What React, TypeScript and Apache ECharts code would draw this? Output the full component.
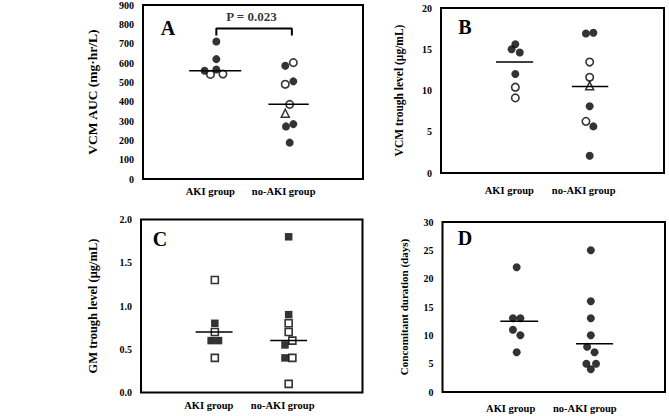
import React, { useEffect, useRef } from "react";
import * as echarts from "echarts";

const groups = ["AKI group", "no-AKI group"];

// Panel A – VCM AUC (mg·hr/L)
const aAkiFilled = [711, 620, 566, 560];
const aAkiFilledJit = [0, 0, 0, -0.16];
const aAkiOpen = [541, 543];
const aAkiOpenJit = [-0.08, 0.09];
const aNoFilled = [586, 505, 284, 272, 188];
const aNoFilledJit = [-0.06, 0.05, 0.05, -0.05, 0];
const aNoOpen = [602, 490, 386];
const aNoOpenJit = [0.05, -0.06, 0];
const aNoTri = [340];
const aNoTriJit = [-0.06];
const aMedian = [560, 386];
const aPText = "P = 0.023";

// Panel B – VCM trough level (μg/mL)
const bAkiFilled = [15.6, 15.0, 14.6, 12.0];
const bAkiFilledJit = [0, -0.05, 0.06, 0];
const bAkiOpen = [10.4, 9.1];
const bAkiOpenJit = [0, 0];
const bNoFilled = [16.9, 17.0, 8.1, 5.65, 2.1];
const bNoFilledJit = [-0.05, 0.05, 0, 0.05, 0];
const bNoOpen = [13.45, 11.6, 6.26];
const bNoOpenJit = [0, 0, -0.05];
const bNoTri = [10.57];
const bNoTriJit = [0];
const bMedian = [13.45, 10.5];

// Panel C – GM trough level (μg/mL)
const cAkiFilled = [0.8, 0.6, 0.6];
const cAkiFilledJit = [0, -0.05, 0.05];
const cAkiOpen = [1.3, 0.7, 0.4];
const cAkiOpenJit = [0, 0, 0];
const cNoFilled = [1.8, 0.9, 0.55, 0.4];
const cNoFilledJit = [0, 0, -0.05, -0.05];
const cNoOpen = [0.8, 0.7, 0.6, 0.4, 0.1];
const cNoOpenJit = [0, 0, 0.05, 0.05, 0];
const cMedian = [0.7, 0.6];

// Panel D – Concomitant duration (days)
const dAki = [22, 13, 13, 11, 10, 7];
const dAkiJit = [0, -0.05, 0.05, -0.05, 0.05, 0];
const dNo = [25, 16, 13, 10, 8, 7, 5, 5, 4];
const dNoJit = [0, 0, 0, 0, -0.05, 0.05, -0.06, 0.07, 0];
const dMedian = [12.5, 8.5];

const FONT = "'Liberation Serif', 'Times New Roman', serif";

type Marker = "filled" | "open" | "openTri" | "filledSq" | "openSq";

function pts(cat: number, values: number[], jit: number[]) {
  return values.map((v, i) => [cat + jit[i], v]);
}

function scatter(idx: number, data: number[][], kind: Marker) {
  const base: any = {
    type: "scatter",
    xAxisIndex: idx,
    yAxisIndex: idx,
    data,
    z: 3,
  };
  if (kind === "filled") {
    base.symbol = "circle";
    base.symbolSize = 8;
    base.itemStyle = { color: "#000" };
  } else if (kind === "open") {
    base.symbol = "circle";
    base.symbolSize = 7.5;
    base.z = 4;
    base.itemStyle = { color: "#fff", borderColor: "#000", borderWidth: 1.6 };
  } else if (kind === "openTri") {
    base.symbol = "triangle";
    base.symbolSize = 8;
    base.z = 4;
    base.itemStyle = { color: "#fff", borderColor: "#000", borderWidth: 1.5 };
  } else if (kind === "filledSq") {
    base.symbol = "rect";
    base.symbolSize = 7.5;
    base.itemStyle = { color: "#000" };
  } else {
    base.symbol = "rect";
    base.symbolSize = 7;
    base.z = 4;
    base.itemStyle = { color: "#fff", borderColor: "#000", borderWidth: 1.6 };
  }
  return base;
}

function median(idx: number, cat: number, value: number, left: number, right: number) {
  return {
    type: "line",
    xAxisIndex: idx,
    yAxisIndex: idx,
    data: [
      [cat - left, value],
      [cat + right, value],
    ],
    symbol: "none",
    z: 5,
    lineStyle: { color: "#000", width: 1.5 },
  };
}

const grids = [
  { left: 143, top: 5, width: 220, height: 174 },
  { left: 441, top: 8, width: 223, height: 165 },
  { left: 141, top: 219.5, width: 221.5, height: 173 },
  { left: 442.5, top: 222, width: 222.5, height: 170 },
];

const yDefs = [
  { min: 0, max: 900, interval: 100, name: "VCM AUC (mg·hr/L)", nameSize: 13.5, nameGap: 44, dec: 0 },
  { min: 0, max: 20, interval: 5, name: "VCM trough level (μg/mL)", nameSize: 11.5, nameGap: 36, dec: 0 },
  { min: 0, max: 2, interval: 0.5, name: "GM trough level (μg/mL)", nameSize: 12.5, nameGap: 42, dec: 1 },
  { min: 0, max: 30, interval: 5, name: "Concomitant duration (days)", nameSize: 11, nameGap: 33, dec: 0 },
];

const xMargins = [7, 12, 7, 11];
const letters = [
  { t: "A", x: 168, y: 28 },
  { t: "B", x: 465, y: 27 },
  { t: "C", x: 160, y: 239 },
  { t: "D", x: 465, y: 238 },
];

export default function App() {
  const ref = useRef<HTMLDivElement>(null);

  useEffect(() => {
    if (!ref.current) return;
    const chart = echarts.init(ref.current, undefined, { renderer: "svg" });

    const series: any[] = [
      // A
      scatter(0, pts(1, aAkiFilled, aAkiFilledJit), "filled"),
      scatter(0, pts(1, aAkiOpen, aAkiOpenJit), "open"),
      scatter(0, pts(2, aNoFilled, aNoFilledJit), "filled"),
      scatter(0, pts(2, aNoOpen, aNoOpenJit), "open"),
      scatter(0, pts(2, aNoTri, aNoTriJit), "openTri"),
      median(0, 1, aMedian[0], 0.37, 0.34),
      median(0, 2, aMedian[1], 0.29, 0.26),
      {
        type: "line",
        xAxisIndex: 0,
        yAxisIndex: 0,
        data: [
          [1, 742],
          [1, 778],
          [2.03, 778],
          [2.03, 742],
        ],
        symbol: "none",
        lineStyle: { color: "#000", width: 2 },
      },
      {
        type: "scatter",
        xAxisIndex: 0,
        yAxisIndex: 0,
        data: [[1.48, 840]],
        symbolSize: 0,
        label: {
          show: true,
          position: "inside",
          formatter: aPText,
          color: "#000",
          fontFamily: FONT,
          fontWeight: "bold",
          fontSize: 13,
        },
      },
      // B
      scatter(1, pts(1, bAkiFilled, bAkiFilledJit), "filled"),
      scatter(1, pts(1, bAkiOpen, bAkiOpenJit), "open"),
      scatter(1, pts(2, bNoFilled, bNoFilledJit), "filled"),
      scatter(1, pts(2, bNoOpen, bNoOpenJit), "open"),
      scatter(1, pts(2, bNoTri, bNoTriJit), "openTri"),
      median(1, 1, bMedian[0], 0.26, 0.24),
      median(1, 2, bMedian[1], 0.24, 0.25),
      // C
      scatter(2, pts(1, cAkiFilled, cAkiFilledJit), "filledSq"),
      scatter(2, pts(1, cAkiOpen, cAkiOpenJit), "openSq"),
      scatter(2, pts(2, cNoFilled, cNoFilledJit), "filledSq"),
      scatter(2, pts(2, cNoOpen, cNoOpenJit), "openSq"),
      median(2, 1, cMedian[0], 0.26, 0.24),
      median(2, 2, cMedian[1], 0.25, 0.25),
      // D
      scatter(3, pts(1, dAki, dAkiJit), "filled"),
      scatter(3, pts(2, dNo, dNoJit), "filled"),
      median(3, 1, dMedian[0], 0.22, 0.29),
      median(3, 2, dMedian[1], 0.2, 0.3),
    ];

    chart.setOption({
      animation: false,
      backgroundColor: "#fff",
      grid: grids.map((g) => ({
        ...g,
        show: true,
        borderColor: "#000",
        borderWidth: 2,
        backgroundColor: "transparent",
      })),
      xAxis: grids.map((_, i) => ({
        type: "value",
        gridIndex: i,
        min: 0,
        max: 3,
        interval: 1,
        axisLine: { show: false },
        axisTick: { show: false },
        splitLine: { show: false },
        axisLabel: {
          margin: xMargins[i],
          color: "#000",
          fontFamily: FONT,
          fontWeight: "bold",
          fontSize: 10.5,
          padding: [0, 12, 0, 0],
          formatter: (v: number) => (v === 1 ? groups[0] : v === 2 ? groups[1] : ""),
        },
      })),
      yAxis: yDefs.map((d, i) => ({
        type: "value",
        gridIndex: i,
        min: d.min,
        max: d.max,
        interval: d.interval,
        axisLine: { show: false },
        axisTick: { show: false },
        splitLine: { show: false },
        axisLabel: {
          margin: 9,
          color: "#000",
          fontFamily: FONT,
          fontWeight: "bold",
          fontSize: 10,
          formatter: (v: number) => v.toFixed(d.dec),
        },
        name: d.name,
        nameLocation: "middle",
        nameGap: d.nameGap,
        nameTextStyle: {
          color: "#000",
          fontFamily: FONT,
          fontWeight: "bold",
          fontSize: d.nameSize,
        },
      })),
      graphic: letters.map((l) => ({
        type: "text",
        x: l.x,
        y: l.y,
        style: {
          text: l.t,
          fill: "#000",
          font: `bold 20px ${FONT}`,
          textAlign: "center",
          textVerticalAlign: "middle",
        },
      })),
      series,
    });

    return () => chart.dispose();
  }, []);

  return (
    <div
      ref={ref}
      style={{ position: "fixed", left: 0, top: 0, width: 669, height: 416 }}
    />
  );
}
